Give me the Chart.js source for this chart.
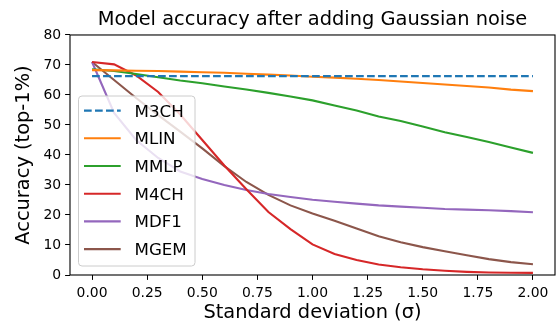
<!DOCTYPE html>
<html>
<head>
<meta charset="utf-8">
<script src="https://cdn.jsdelivr.net/npm/chart.js@4.4.0/dist/chart.umd.min.js"></script>
<style>
  html, body { margin: 0; padding: 0; background: #fff; }
  #wrap { width: 558px; height: 325px; }
</style>
</head>
<body>
<div id="wrap"><canvas id="c" width="558" height="325"></canvas></div>
<script>
// ---- data ----
const sigma = [0.0, 0.1, 0.2, 0.3, 0.4, 0.5, 0.6, 0.7, 0.8, 0.9, 1.0, 1.1, 1.2, 1.3, 1.4, 1.5, 1.6, 1.7, 1.8, 1.9, 2.0];
const M3CH = [66.3, 66.3, 66.3, 66.3, 66.3, 66.3, 66.3, 66.3, 66.3, 66.3, 66.3, 66.3, 66.3, 66.3, 66.3, 66.3, 66.3, 66.3, 66.3, 66.3, 66.3];
const MLIN = [68.3, 68.2, 68.1, 68.0, 67.8, 67.6, 67.4, 67.1, 66.8, 66.5, 66.1, 65.8, 65.4, 65.0, 64.5, 64.0, 63.5, 63.0, 62.5, 61.8, 61.3];
const MMLP = [68.6, 68.0, 67.0, 65.9, 64.8, 63.9, 62.8, 61.8, 60.7, 59.5, 58.2, 56.5, 54.8, 52.8, 51.3, 49.5, 47.6, 46.0, 44.3, 42.5, 40.7];
const M4CH = [71.0, 70.2, 66.5, 61.0, 53.5, 45.0, 36.5, 28.6, 21.0, 15.3, 10.2, 7.0, 5.0, 3.5, 2.6, 1.9, 1.4, 1.05, 0.85, 0.75, 0.7];
const MDF1 = [71.0, 54.0, 45.0, 39.0, 34.5, 32.0, 30.0, 28.3, 27.0, 26.0, 25.1, 24.4, 23.8, 23.2, 22.8, 22.4, 22.0, 21.8, 21.6, 21.3, 20.9];
const MGEM = [71.0, 65.0, 59.0, 53.3, 47.8, 42.2, 36.3, 31.0, 26.7, 23.2, 20.5, 18.1, 15.5, 12.9, 10.9, 9.3, 7.9, 6.6, 5.3, 4.3, 3.6];
const seriesNames = ["M3CH", "MLIN", "MMLP", "M4CH", "MDF1", "MGEM"];
const xTicks = [0.0, 0.25, 0.5, 0.75, 1.0, 1.25, 1.5, 1.75, 2.0];
const yTicks = [0, 10, 20, 30, 40, 50, 60, 70, 80];
const titleText = "Model accuracy after adding Gaussian noise";
const xLabel = "Standard deviation (σ)";
const yLabel = "Accuracy (top-1%)";

// ---- styles ----
const FONT = "'DejaVu Sans', sans-serif";
const colors = ["#1f77b4", "#ff7f0e", "#2ca02c", "#d62728", "#9467bd", "#8c564b"];
const values = [M3CH, MLIN, MMLP, M4CH, MDF1, MGEM];

const datasets = seriesNames.map((name, i) => ({
  label: name,
  data: sigma.map((s, j) => ({ x: s, y: values[i][j] })),
  borderColor: colors[i],
  backgroundColor: colors[i],
  borderWidth: 2.1,
  borderDash: i === 0 ? [7.7, 3.3] : [],
  pointRadius: 0,
  tension: 0,
  fill: false
}));

const framePlugin = {
  id: 'frame',
  afterDatasetsDraw(chart) {
    const { ctx, chartArea: a } = chart;
    ctx.save();
    ctx.strokeStyle = '#000';
    ctx.lineWidth = 1.1;
    ctx.strokeRect(a.left, a.top, a.right - a.left, a.bottom - a.top);
    ctx.restore();
  }
};

const legendPlugin = {
  id: 'mplLegend',
  afterDraw(chart) {
    const { ctx } = chart;
    const bx = 78.5, by = 96, bw = 116.5, bh = 170, r = 3.5;
    ctx.save();
    ctx.beginPath();
    ctx.moveTo(bx + r, by);
    ctx.lineTo(bx + bw - r, by);
    ctx.arcTo(bx + bw, by, bx + bw, by + r, r);
    ctx.lineTo(bx + bw, by + bh - r);
    ctx.arcTo(bx + bw, by + bh, bx + bw - r, by + bh, r);
    ctx.lineTo(bx + r, by + bh);
    ctx.arcTo(bx, by + bh, bx, by + bh - r, r);
    ctx.lineTo(bx, by + r);
    ctx.arcTo(bx, by, bx + r, by, r);
    ctx.closePath();
    ctx.fillStyle = 'rgba(255,255,255,0.8)';
    ctx.fill();
    ctx.strokeStyle = '#cccccc';
    ctx.lineWidth = 1;
    ctx.stroke();
    const fs = 16.7;
    ctx.font = fs + "px " + FONT;
    ctx.textBaseline = 'alphabetic';
    ctx.textAlign = 'left';
    chart.data.datasets.forEach((ds, i) => {
      const y = 110.6 + i * 27.7;
      ctx.beginPath();
      ctx.setLineDash(ds.borderDash || []);
      ctx.strokeStyle = ds.borderColor;
      ctx.lineWidth = ds.borderWidth;
      ctx.moveTo(84, y);
      ctx.lineTo(120.7, y);
      ctx.stroke();
      ctx.setLineDash([]);
      ctx.fillStyle = '#000';
      ctx.fillText(ds.label, 134.5, y + fs * 0.365);
    });
    ctx.restore();
  }
};

new Chart(document.getElementById('c'), {
  type: 'line',
  data: { datasets },
  plugins: [framePlugin, legendPlugin],
  options: {
    responsive: false,
    animation: false,
    events: [],
    layout: { padding: { left: 0, right: 3, top: 0, bottom: 0 } },
    plugins: {
      legend: { display: false },
      tooltip: { enabled: false },
      title: {
        display: true,
        fullSize: false,
        text: titleText,
        color: '#000',
        font: { family: FONT, size: 19.4, weight: 'normal', lineHeight: 1.2 },
        padding: { top: 7.9, bottom: 3.8 }
      }
    },
    scales: {
      x: {
        type: 'linear',
        min: -0.1,
        max: 2.1,
        afterBuildTicks(scale) { scale.ticks = xTicks.map(v => ({ value: v })); },
        afterFit(scale) { scale.height = 50; },
        grid: { drawOnChartArea: false, drawTicks: true, tickLength: 4.9, color: '#000', tickWidth: 1 },
        border: { display: false },
        ticks: {
          color: '#000',
          font: { family: FONT, size: 13.9 },
          padding: 5,
          maxRotation: 0,
          autoSkip: false,
          callback: v => Number(v).toFixed(2)
        },
        title: {
          display: true,
          text: xLabel,
          color: '#000',
          font: { family: FONT, size: 19.4, lineHeight: 1.2 },
          padding: { top: 0, bottom: 0 }
        }
      },
      y: {
        type: 'linear',
        min: 0,
        max: 80,
        afterBuildTicks(scale) { scale.ticks = yTicks.map(v => ({ value: v })); },
        afterFit(scale) { scale.width = 70; },
        grid: { drawOnChartArea: false, drawTicks: true, tickLength: 4.9, color: '#000', tickWidth: 1 },
        border: { display: false },
        ticks: {
          color: '#000',
          font: { family: FONT, size: 13.9 },
          padding: 4,
          autoSkip: false,
          callback: v => String(v)
        },
        title: {
          display: true,
          text: yLabel,
          color: '#000',
          font: { family: FONT, size: 19.4, lineHeight: 1.2 },
          padding: { top: 12.3, bottom: 0 }
        }
      }
    }
  }
});
</script>
</body>
</html>
